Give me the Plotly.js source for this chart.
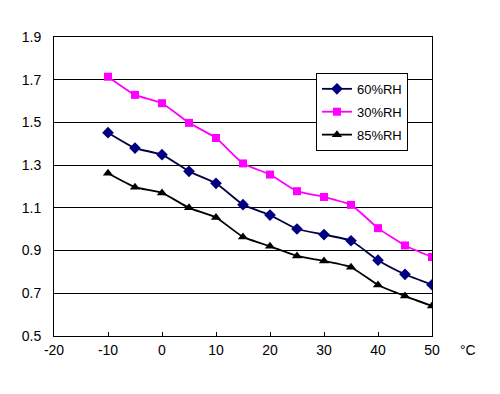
<!DOCTYPE html>
<html>
<head>
<meta charset="utf-8">
<script src="https://cdn.plot.ly/plotly-3.0.1.min.js"></script>
<style>
  html, body { margin: 0; padding: 0; background: #fff; }
  #chart { width: 500px; height: 394px; }
</style>
</head>
<body>
<div id="chart"></div>
<script>
const temps = [-10, -5, 0, 5, 10, 15, 20, 25, 30, 35, 40, 45, 50];
const rh60 = [1.452, 1.380, 1.349, 1.271, 1.215, 1.115, 1.066, 1.001, 0.975, 0.946, 0.855, 0.789, 0.740];
const rh30 = [1.714, 1.629, 1.590, 1.498, 1.427, 1.308, 1.256, 1.178, 1.151, 1.114, 1.005, 0.924, 0.870];
const rh85 = [1.262, 1.197, 1.170, 1.100, 1.055, 0.964, 0.920, 0.875, 0.851, 0.822, 0.739, 0.687, 0.641];
const seriesNames = ['60%RH', '30%RH', '85%RH'];
const xTicks = [-20, -10, 0, 10, 20, 30, 40, 50];
const yTicks = [0.5, 0.7, 0.9, 1.1, 1.3, 1.5, 1.7, 1.9];

const font = { family: 'Liberation Sans, Arial, sans-serif', size: 14, color: '#000' };

const traces = [
  { x: temps, y: rh60, name: seriesNames[0], legendgroup: 'a', type: 'scatter', mode: 'lines+markers',
    line: { color: '#000040', width: 1.8, shape: 'spline', smoothing: 0.5 },
    marker: { symbol: 'diamond', size: 9, color: '#000080', line: { width: 0 } } },
  { x: temps, y: rh30, name: seriesNames[1], legendgroup: 'b', type: 'scatter', mode: 'lines+markers',
    line: { color: '#FF00FF', width: 1.8, shape: 'spline', smoothing: 0.5 },
    marker: { symbol: 'square', size: 8, color: '#FF00FF', line: { width: 0 } } },
  { x: temps, y: rh85, name: seriesNames[2], legendgroup: 'c', type: 'scatter', mode: 'lines+markers',
    line: { color: '#000000', width: 1.8, shape: 'spline', smoothing: 0.5 },
    marker: { symbol: 'triangle-up', size: 9, color: '#000000', line: { width: 0 } } }
];

const layout = {
  width: 500, height: 394,
  margin: { l: 54, r: 68, t: 37, b: 58 },
  paper_bgcolor: '#fff', plot_bgcolor: '#fff',
  font: font,
  showlegend: true,
  legend: {
    x: 0.693, y: 0.88, xanchor: 'left', yanchor: 'top',
    bgcolor: '#fff', bordercolor: '#000', borderwidth: 1,
    font: { family: 'Liberation Sans, Arial, sans-serif', size: 13, color: '#000' },
    tracegroupgap: 3, itemwidth: 30
  },
  xaxis: {
    range: [-20, 50], tickvals: xTicks, ticktext: xTicks.map(String),
    showgrid: false, zeroline: false,
    showline: true, linecolor: '#000', linewidth: 1, mirror: true,
    ticks: 'inside', ticklen: 4, tickcolor: '#000', tickwidth: 1,
    ticklabelstandoff: 1,
    tickfont: font, fixedrange: true
  },
  yaxis: {
    range: [0.5, 1.9], tickvals: yTicks, ticktext: yTicks.map(v => v.toFixed(1)),
    showgrid: true, gridcolor: '#000', gridwidth: 1,
    zeroline: false,
    showline: true, linecolor: '#000', linewidth: 1, mirror: true,
    ticks: '', ticklabelstandoff: 9,
    tickfont: font, fixedrange: true
  },
  annotations: [
    { text: '°C', xref: 'paper', yref: 'paper', x: 1.069, y: -0.047,
      xanchor: 'left', yanchor: 'middle', showarrow: false, font: font }
  ]
};

Plotly.newPlot('chart', traces, layout, { staticPlot: true, displayModeBar: false });
</script>
</body>
</html>
